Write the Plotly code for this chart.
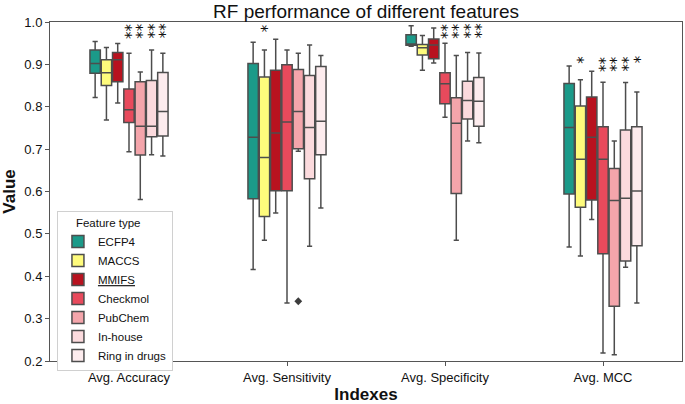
import plotly.graph_objects as go

categories = ["Avg. Accuracy", "Avg. Sensitivity", "Avg. Specificity", "Avg. MCC"]
features = ["ECFP4", "MACCS", "MMIFS", "Checkmol", "PubChem", "In-house", "Ring in drugs"]
colors = ["#1b9a89", "#fefb7c", "#b8121f", "#e84a5c", "#f4a5ab", "#fbdadd", "#fdecee"]

# per feature: values for [Accuracy, Sensitivity, Specificity, MCC]
lower = {
    "ECFP4":         [0.822, 0.416, 0.943, 0.469],
    "MACCS":         [0.769, 0.485, 0.886, 0.448],
    "MMIFS":         [0.809, 0.549, 0.903, 0.534],
    "Checkmol":      [0.694, 0.337, 0.775, 0.219],
    "PubChem":       [0.581, 0.695, 0.485, 0.215],
    "In-house":      [0.687, 0.471, 0.719, 0.421],
    "Ring in drugs": [0.684, 0.561, 0.715, 0.337],
}
q1 = {
    "ECFP4":         [0.879, 0.583, 0.945, 0.594],
    "MACCS":         [0.850, 0.541, 0.922, 0.563],
    "MMIFS":         [0.859, 0.602, 0.913, 0.580],
    "Checkmol":      [0.763, 0.602, 0.807, 0.453],
    "PubChem":       [0.686, 0.701, 0.595, 0.329],
    "In-house":      [0.729, 0.630, 0.771, 0.436],
    "Ring in drugs": [0.731, 0.687, 0.754, 0.472],
}
median = {
    "ECFP4":         [0.902, 0.728, 0.948, 0.751],
    "MACCS":         [0.880, 0.680, 0.939, 0.676],
    "MMIFS":         [0.911, 0.738, 0.946, 0.728],
    "Checkmol":      [0.793, 0.764, 0.854, 0.676],
    "PubChem":       [0.754, 0.789, 0.761, 0.579],
    "In-house":      [0.754, 0.751, 0.815, 0.584],
    "Ring in drugs": [0.789, 0.766, 0.813, 0.601],
}
q3 = {
    "ECFP4":         [0.934, 0.902, 0.970, 0.855],
    "MACCS":         [0.911, 0.870, 0.947, 0.802],
    "MMIFS":         [0.928, 0.886, 0.960, 0.823],
    "Checkmol":      [0.842, 0.899, 0.880, 0.753],
    "PubChem":       [0.859, 0.888, 0.821, 0.654],
    "In-house":      [0.862, 0.874, 0.860, 0.745],
    "Ring in drugs": [0.881, 0.895, 0.869, 0.753],
}
upper = {
    "ECFP4":         [0.954, 0.952, 0.991, 0.896],
    "MACCS":         [0.940, 0.934, 0.968, 0.864],
    "MMIFS":         [0.949, 0.959, 0.986, 0.884],
    "Checkmol":      [0.926, 0.934, 0.950, 0.858],
    "PubChem":       [0.882, 0.926, 0.921, 0.719],
    "In-house":      [0.934, 0.946, 0.928, 0.857],
    "Ring in drugs": [0.926, 0.921, 0.927, 0.835],
}
# outlier points: (category, feature, value)
outlier_cats = ["Avg. Sensitivity"]
outlier_feats = ["PubChem"]
outlier_vals = [0.341]

# significance marks: per category, per feature
significance = {
    "Avg. Accuracy":    ["", "", "", "**", "**", "**", "**"],
    "Avg. Sensitivity": ["", "*", "", "", "", "", ""],
    "Avg. Specificity": ["", "", "", "**", "**", "**", "**"],
    "Avg. MCC":         ["", "*", "", "**", "**", "**", "*"],
}
sig_top = {
    "Avg. Accuracy": 0.988,
    "Avg. Sensitivity": 0.984,
    "Avg. Specificity": 0.988,
    "Avg. MCC": 0.910,
}

fig = go.Figure()
for f, c in zip(features, colors):
    name = "<u>MMIFS</u>" if f == "MMIFS" else f
    fig.add_trace(go.Box(
        x=categories,
        lowerfence=lower[f], q1=q1[f], median=median[f], q3=q3[f], upperfence=upper[f],
        name=name, fillcolor=c, boxpoints=False,
        line=dict(color="#4d4d4d", width=1.5),
        whiskerwidth=0.5,
    ))

nf = len(features)
gw = 0.5  # group width in category units (1 - boxgap)


def box_center(cat, feat):
    i = categories.index(cat)
    j = features.index(feat)
    return i - gw / 2 + (j + 0.5) * gw / nf


fig.add_trace(go.Scatter(
    x=[box_center(c, f) for c, f in zip(outlier_cats, outlier_feats)],
    y=outlier_vals, mode="markers", xaxis="x2", showlegend=False,
    marker=dict(symbol="diamond", size=6, color="#3d3d3d"),
))

for cat in categories:
    for j, s in enumerate(significance[cat]):
        if not s:
            continue
        xpos = box_center(cat, features[j])
        ycen = sig_top[cat] - (len(s) - 1) * 0.0105
        fig.add_annotation(x=xpos, y=ycen, text=s, showarrow=False, textangle=90,
                           xref="x", yref="y", xanchor="center", yanchor="middle",
                           xshift=-3.5, borderpad=0,
                           font=dict(size=15, color="#111", family="DejaVu Sans"))

fig.update_layout(
    width=685, height=404,
    margin=dict(l=50, r=2, t=22, b=40),
    boxmode="group", boxgap=0.5, boxgroupgap=0.08,
    plot_bgcolor="white", paper_bgcolor="white",
    font=dict(family="Liberation Sans, Arial", size=12, color="#222"),
    title=dict(text="RF performance of different features", x=0.5, xref="paper", xanchor="center",
               y=0.972, yanchor="middle", font=dict(size=19, color="#111")),
    legend=dict(x=0.011, y=0.442, xanchor="left", yanchor="top",
                bgcolor="white", bordercolor="#d0d0d0", borderwidth=1,
                font=dict(size=11.5, color="#111"),
                title=dict(text="     Feature type", font=dict(size=11.5, color="#111"))),
    showlegend=True,
    xaxis2=dict(overlaying="x", range=[-0.5, 3.5], visible=False),
)
fig.update_layout(xaxis=dict(
    range=[-0.5, 3.5], showline=True, linecolor="#555", linewidth=1, mirror=True,
    ticks="outside", ticklen=4, tickcolor="#555",
    tickfont=dict(size=13, color="#111"),
    title=dict(text="<b>Indexes</b>", font=dict(size=17, color="#111"), standoff=6)))
fig.update_yaxes(range=[0.2, 1.0], dtick=0.1, tickformat=".1f",
                 showline=True, linecolor="#555", linewidth=1, mirror=True,
                 ticks="outside", ticklen=4, tickcolor="#555", showgrid=False, zeroline=False,
                 tickfont=dict(size=13, color="#111"),
                 title=dict(text="<b>Value</b>", font=dict(size=17, color="#111"), standoff=4))

fig.write_html("out.html", config={"displayModeBar": False},
               post_script="document.body.style.margin='0px';")
